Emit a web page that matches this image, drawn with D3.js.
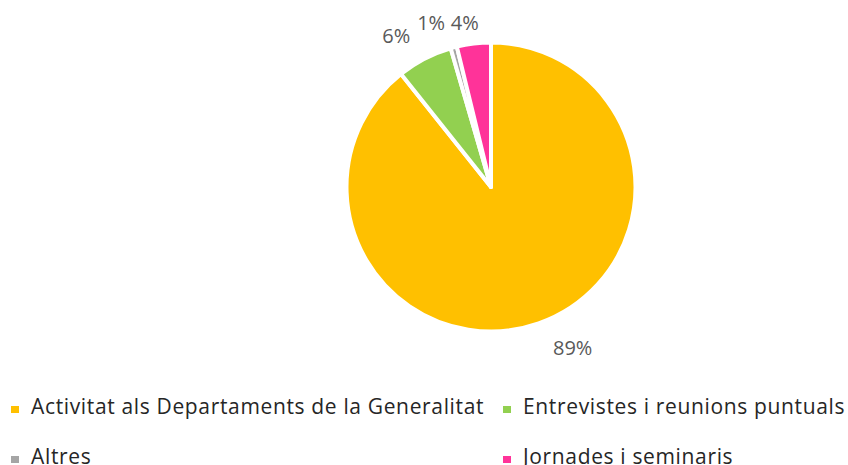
<!DOCTYPE html>
<html>
<head>
<meta charset="utf-8">
<script src="https://cdn.jsdelivr.net/npm/d3@7"></script>
<style>
  body { margin: 0; background: #fff; }
  svg { display: block; font-family: "Open Sans", sans-serif; }
</style>
</head>
<body>
<svg id="chart" width="848" height="465"></svg>
<script>
var categories = ["Activitat als Departaments de la Generalitat", "Entrevistes i reunions puntuals", "Altres", "Jornades i seminaris"];
var values = [89.3, 6.2, 0.7, 3.8];
var colors = ["#FFC000", "#92D050", "#A5A5A5", "#FF3399"];

// label tweaks, Excel moves them a bit to keep them apart
var labelNudge = [[23, -7], [-13, 7], [-14, 8], [-5, 13]];

var svg = d3.select("#chart");
var cx = 491, cy = 187, radius = 144.5;

var pie = d3.pie().sort(null).value(function (d) { return d; });
var arcs = pie(values);
var arc = d3.arc().innerRadius(0).outerRadius(radius);

var g = svg.append("g").attr("transform", "translate(" + cx + "," + cy + ")");

g.selectAll("path")
    .data(arcs)
    .enter().append("path")
    .attr("d", arc)
    .attr("fill", function (d, i) { return colors[i]; })
    .attr("stroke", "#fff")
    .attr("stroke-width", 4)
    .attr("stroke-linejoin", "round");

var total = d3.sum(values);
var labelR = 178;
g.selectAll("text.pct")
    .data(arcs)
    .enter().append("text")
    .attr("class", "pct")
    .attr("x", function (d, i) {
        var a = (d.startAngle + d.endAngle) / 2;
        return Math.sin(a) * labelR + labelNudge[i][0];
    })
    .attr("y", function (d, i) {
        var a = (d.startAngle + d.endAngle) / 2;
        return -Math.cos(a) * labelR + labelNudge[i][1];
    })
    .attr("dy", "0.35em")
    .attr("text-anchor", "middle")
    .attr("font-size", 20)
    .attr("fill", "#595959")
    .text(function (d) { return Math.round(d.value / total * 100) + "%"; });

// legend, two columns
var legend = svg.append("g");
var item = legend.selectAll("g")
    .data(categories)
    .enter().append("g")
    .attr("transform", function (d, i) {
        var col = i % 2, row = Math.floor(i / 2);
        return "translate(" + (11 + col * 492) + "," + (414 + row * 50) + ")";
    });

item.append("rect")
    .attr("x", 0)
    .attr("y", -8)
    .attr("width", 8)
    .attr("height", 7)
    .attr("fill", function (d, i) { return colors[i]; });

item.append("text")
    .attr("x", 20)
    .attr("y", 0)
    .attr("font-size", 21)
    .attr("letter-spacing", 0.65)
    .attr("fill", "#262626")
    .text(function (d) { return d; });
</script>
</body>
</html>
